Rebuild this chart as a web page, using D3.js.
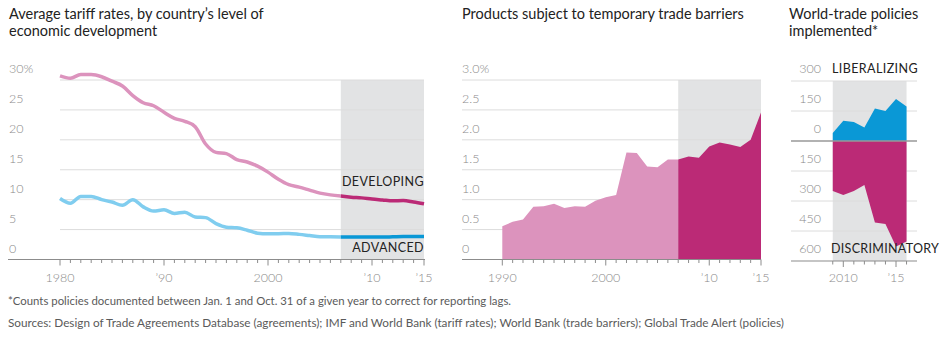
<!DOCTYPE html>
<html><head><meta charset="utf-8">
<script src="https://cdn.jsdelivr.net/npm/d3@7"></script>
<style>
body{margin:0;background:#fff;}
svg{display:block;}
text{font-family:Lato,"Open Sans",sans-serif;}
</style></head>
<body>
<svg id="c" width="940" height="340"></svg>
<script>
// ---------- DATA ----------
const tariffYears = d3.range(1980, 2016);
const developing = [30.7,30.3,30.9,30.9,30.55,29.8,29.0,27.4,26.2,25.7,24.6,23.6,23.1,22.2,19.3,17.9,17.7,16.7,16.3,15.6,14.6,13.4,12.5,12.1,11.6,11.1,10.8,10.6,10.4,10.3,10.1,9.95,9.8,9.85,9.6,9.3];
const advanced   = [10.2,9.4,10.55,10.55,10.0,9.6,9.05,10.0,8.8,8.1,8.3,7.7,7.9,7.1,7.0,6.0,5.4,5.3,4.9,4.4,4.3,4.3,4.35,4.2,4.0,3.8,3.8,3.75,3.75,3.75,3.75,3.75,3.8,3.85,3.85,3.85];
const tariffTicks = [0,5,10,15,20,25,30];
const tariffTickLabels = ["0","5","10","15","20","25","30%"];
const tariffXTicks = [1980,1990,2000,2010,2015];
const tariffXLabels = ["1980","\u201990","2000","\u201910","\u201915"];

const barrierYears = d3.range(1990, 2016);
const barriers = [0.555,0.63,0.67,0.88,0.89,0.93,0.86,0.89,0.88,0.98,1.04,1.08,1.79,1.78,1.555,1.54,1.67,1.67,1.72,1.70,1.89,1.955,1.92,1.88,2.0,2.455];
const barrierTicks = [0,0.5,1,1.5,2,2.5,3];
const barrierTickLabels = ["0","0.5","1.0","1.5","2.0","2.5","3.0%"];
const barrierXTicks = [1990,2000,2010,2015];
const barrierXLabels = ["1990","2000","\u201910","\u201915"];

const policyYears = d3.range(2009, 2017);
const liberalizing   = [40,101,95,67,162,150,210,172];
const discriminatory = [250,270,250,220,408,415,528,503];
const policyTicks = [300,150,0,-150,-300,-450,-600];
const policyTickLabels = ["300","150","0","150","300","450","600"];
const policyXTicks = [2010,2015];
const policyXLabels = ["2010","\u201915"];

const shadeStart = 2007;

// ---------- STYLE ----------
const C = {
  pinkLight:"#dc93bd", pinkDark:"#bb2a76",
  blueLight:"#80cdef", blueDark:"#0a98d6",
  shade:"#e2e3e4", grid:"#dcdcdc", axis:"#8c8c8c",
  tick:"#8a8a8a", title:"#222", note:"#5a5a5a"
};

const svg = d3.select("#c");

function title(lines, x) {
  lines.forEach((t,i)=>svg.append("text").attr("x",x).attr("y",19+i*16.5)
    .attr("font-size",14.5).attr("fill",C.title).text(t));
}
function xAxis(x, years, majors, labels, x0, x1, yBase) {
  svg.append("line").attr("x1",x0).attr("x2",x1).attr("y1",yBase).attr("y2",yBase)
    .attr("stroke",C.axis).attr("stroke-width",1.2);
  years.forEach(yr=>{
    const m = majors.includes(yr);
    svg.append("line").attr("x1",x(yr)).attr("x2",x(yr)).attr("y1",yBase)
      .attr("y2",yBase+(m?6:3.5)).attr("stroke",C.axis).attr("stroke-width",1);
  });
  majors.forEach((yr,i)=>svg.append("text").attr("x",x(yr)).attr("y",282)
    .attr("text-anchor","middle").attr("font-size",12.5).attr("font-weight",300).attr("fill",C.tick).text(labels[i]));
}

// ---------- LEFT: tariffs ----------
title(["Average tariff rates, by country\u2019s level of","economic development"], 9);
const xL = d3.scaleLinear().domain([1980,2015]).range([60,424]);
const yL = d3.scaleLinear().domain([0,30]).range([259.5,80]);
svg.append("rect").attr("x",xL(shadeStart)).attr("y",yL(30)).attr("width",xL(2015)-xL(shadeStart))
  .attr("height",yL(0)-yL(30)).attr("fill",C.shade);
tariffTicks.forEach((v,i)=>{
  if (v>0) svg.append("line").attr("x1",60).attr("x2",424).attr("y1",yL(v)).attr("y2",yL(v))
    .attr("stroke",C.grid).attr("stroke-width",1);
  svg.append("text").attr("x",9).attr("y",yL(v)-7).attr("font-size",12.5).attr("font-weight",300)
    .attr("fill",C.tick).text(tariffTickLabels[i]);
});
const lineL = d3.line().x(d=>xL(d[0])).y(d=>yL(d[1])).curve(d3.curveMonotoneX);
function drawSplit(vals, light, dark) {
  const pts = tariffYears.map((y,i)=>[y,vals[i]]);
  svg.append("path").attr("d",lineL(pts.filter(d=>d[0]<=shadeStart))).attr("fill","none")
    .attr("stroke",light).attr("stroke-width",3.5).attr("stroke-linejoin","round");
  svg.append("path").attr("d",lineL(pts.filter(d=>d[0]>=shadeStart))).attr("fill","none")
    .attr("stroke",dark).attr("stroke-width",3.5).attr("stroke-linejoin","round");
}
drawSplit(advanced, C.blueLight, C.blueDark);
drawSplit(developing, C.pinkLight, C.pinkDark);
svg.append("text").attr("x",424).attr("y",185.5).attr("text-anchor","end").attr("font-size",12.5)
  .attr("fill",C.title).attr("letter-spacing",0.4).text("DEVELOPING");
svg.append("text").attr("x",424).attr("y",251.5).attr("text-anchor","end").attr("font-size",12.5)
  .attr("fill",C.title).attr("letter-spacing",0.4).text("ADVANCED");
xAxis(xL, tariffYears, tariffXTicks, tariffXLabels, 8, 425, 259.5);

// ---------- MIDDLE: trade barriers ----------
title(["Products subject to temporary trade barriers"], 462);
const xM = d3.scaleLinear().domain([1990,2015]).range([502.3,761]);
const yM = d3.scaleLinear().domain([0,3]).range([259.5,80]);
svg.append("rect").attr("x",xM(shadeStart)).attr("y",yM(3)).attr("width",xM(2015)-xM(shadeStart))
  .attr("height",yM(0)-yM(3)).attr("fill",C.shade);
barrierTicks.forEach((v,i)=>{
  if (v>0) svg.append("line").attr("x1",462).attr("x2",761).attr("y1",yM(v)).attr("y2",yM(v))
    .attr("stroke",C.grid).attr("stroke-width",1);
  svg.append("text").attr("x",462).attr("y",yM(v)-7).attr("font-size",12.5).attr("font-weight",300)
    .attr("fill",C.tick).text(barrierTickLabels[i]);
});
const areaM = d3.area().x(d=>xM(d[0])).y0(yM(0)).y1(d=>yM(d[1]));
const bpts = barrierYears.map((y,i)=>[y,barriers[i]]);
svg.append("path").attr("d",areaM(bpts.filter(d=>d[0]<=shadeStart))).attr("fill",C.pinkLight);
svg.append("path").attr("d",areaM(bpts.filter(d=>d[0]>=shadeStart))).attr("fill",C.pinkDark);
xAxis(xM, barrierYears, barrierXTicks, barrierXLabels, 462, 761, 259.5);

// ---------- RIGHT: policies ----------
title(["World-trade policies","implemented*"], 789);
const xR = d3.scaleLinear().domain([2010,2015]).range([843.3,896]);
const yR = d3.scaleLinear().domain([-600,300]).range([261,81]);
svg.append("rect").attr("x",xR(2009)).attr("y",yR(300)).attr("width",xR(2016)-xR(2009))
  .attr("height",yR(-600)-yR(300)).attr("fill",C.shade);
policyTicks.forEach((v,i)=>{
  if (v!==0 && v!==-600) svg.append("line").attr("x1",791).attr("x2",917).attr("y1",yR(v)).attr("y2",yR(v))
    .attr("stroke",C.grid).attr("stroke-width",1);
  svg.append("text").attr("x",821).attr("y",yR(v)-8).attr("text-anchor","end").attr("font-size",12.5)
    .attr("font-weight",300).attr("fill",C.tick).text(policyTickLabels[i]);
});
const areaR = d3.area().x(d=>xR(d[0])).y0(yR(0)).y1(d=>yR(d[1]));
svg.append("path").attr("d",areaR(policyYears.map((y,i)=>[y,liberalizing[i]]))).attr("fill",C.blueDark);
svg.append("path").attr("d",areaR(policyYears.map((y,i)=>[y,-discriminatory[i]]))).attr("fill",C.pinkDark);
svg.append("line").attr("x1",791).attr("x2",917).attr("y1",yR(0)).attr("y2",yR(0))
  .attr("stroke","#999").attr("stroke-width",1.5);
svg.append("text").attr("x",832).attr("y",72.5).attr("font-size",12.5).attr("fill",C.title)
  .attr("letter-spacing",0.4).text("LIBERALIZING");
svg.append("text").attr("x",831).attr("y",252.5).attr("font-size",12.5).attr("fill",C.title)
  .attr("letter-spacing",0.3).text("DISCRIMINATORY");
xAxis(xR, policyYears, policyXTicks, policyXLabels, 791, 917, 261);

// ---------- NOTES ----------
svg.append("text").attr("x",8).attr("y",305).attr("font-size",11).attr("fill",C.note)
  .attr("textLength",503).attr("lengthAdjust","spacingAndGlyphs")
  .text("*Counts policies documented between Jan. 1 and Oct. 31 of a given year to correct for reporting lags.");
svg.append("text").attr("x",8).attr("y",327).attr("font-size",11).attr("fill",C.note)
  .attr("textLength",776).attr("lengthAdjust","spacingAndGlyphs")
  .text("Sources: Design of Trade Agreements Database (agreements); IMF and World Bank (tariff rates); World Bank (trade barriers); Global Trade Alert (policies)");
</script>
</body></html>
